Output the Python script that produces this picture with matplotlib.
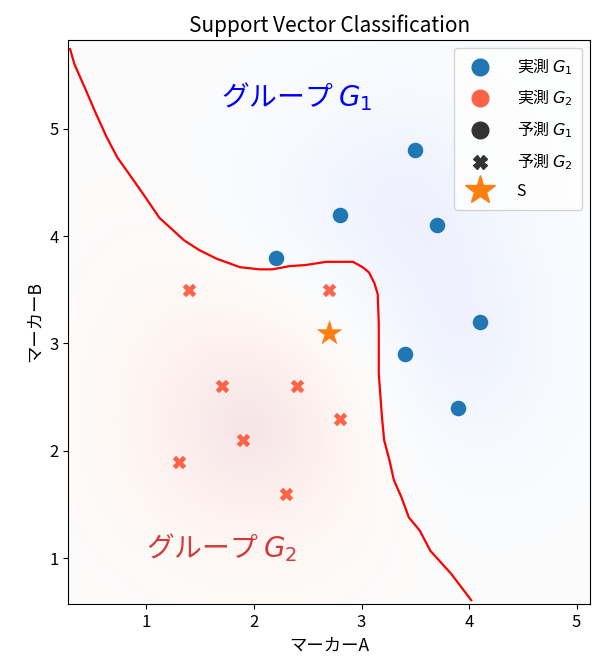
import numpy as np
import matplotlib.pyplot as plt
from matplotlib.lines import Line2D

plt.rcParams['font.family'] = ['Noto Sans CJK JP', 'DejaVu Sans']

# measured points
g1_x = [2.2, 2.8, 3.5, 3.7, 4.1, 3.4, 3.9]
g1_y = [3.8, 4.2, 4.8, 4.1, 3.2, 2.9, 2.4]
g2_x = [1.4, 2.7, 1.7, 2.4, 1.9, 2.8, 1.3, 2.3]
g2_y = [3.5, 3.5, 2.6, 2.6, 2.1, 2.3, 1.9, 1.6]
s_x = [2.7]
s_y = [3.1]

# decision boundary
boundary_x = [0.29, 0.33, 0.44, 0.53, 0.63, 0.73, 0.83, 0.97, 1.12, 1.35, 1.49,
              1.65, 1.87, 2.05, 2.17, 2.33, 2.48, 2.67, 2.92, 3.01, 3.07, 3.12,
              3.15, 3.16, 3.16, 3.19, 3.21, 3.26, 3.30, 3.37, 3.44, 3.54, 3.64,
              3.83, 4.02]
boundary_y = [5.74, 5.60, 5.35, 5.14, 4.92, 4.73, 4.59, 4.39, 4.17, 3.96, 3.87,
              3.79, 3.71, 3.69, 3.69, 3.72, 3.73, 3.76, 3.76, 3.71, 3.66, 3.56,
              3.46, 3.18, 2.72, 2.31, 2.10, 1.91, 1.73, 1.57, 1.38, 1.26, 1.07,
              0.86, 0.61]

xlim = (0.275, 5.125)
ylim = (0.575, 5.825)

# soft background from rbf kernels around the points
gamma = 0.9
gx = np.linspace(xlim[0], xlim[1], 300)
gy = np.linspace(ylim[0], ylim[1], 300)
GX, GY = np.meshgrid(gx, gy)
field = np.zeros_like(GX)
for px, py in zip(g1_x, g1_y):
    field += np.exp(-gamma * ((GX - px) ** 2 + (GY - py) ** 2))
for px, py in zip(g2_x, g2_y):
    field -= 0.8 * np.exp(-gamma * ((GX - px) ** 2 + (GY - py) ** 2))
m = np.abs(field).max()

fig = plt.figure(figsize=(6.04, 6.72), dpi=100)
ax = fig.add_axes([0.1134, 0.1012, 0.8636, 0.8393])

ax.imshow(field, extent=(*xlim, *ylim), origin='lower', cmap='coolwarm_r',
          vmin=-m, vmax=m, alpha=0.1, aspect='auto', interpolation='bilinear')

ax.plot(boundary_x, boundary_y, color='red', lw=1.6)

ax.scatter(g1_x, g1_y, s=125, marker='o', color='#1f77b4', linewidths=0, zorder=3)
ax.scatter(g2_x, g2_y, s=95, marker='X', color='tomato', linewidths=0, zorder=3)
ax.scatter(s_x, s_y, s=380, marker='*', color='#ff7f0e', linewidths=0, zorder=4)

ax.text(2.4, 5.3, 'グループ $G_1$', color='blue', fontsize=20,
        ha='center', va='center')
ax.text(1.7, 1.1, 'グループ $G_2$', color='#d33b3b', fontsize=20,
        ha='center', va='center')

ax.set_xlim(xlim)
ax.set_ylim(ylim)
ax.set_xticks([1, 2, 3, 4, 5])
ax.set_yticks([1, 2, 3, 4, 5])
ax.tick_params(labelsize=12)
ax.set_xlabel('マーカーA', fontsize=12.5)
ax.set_ylabel('マーカーB', fontsize=12.5)
ax.set_title('Support Vector Classification', fontsize=15)

handles = [
    Line2D([], [], ls='', marker='o', color='#1f77b4', markersize=12),
    Line2D([], [], ls='', marker='o', color='tomato', markersize=12),
    Line2D([], [], ls='', marker='o', color='#333333', markersize=12),
    Line2D([], [], ls='', marker='X', color='#333333', markersize=10),
    Line2D([], [], ls='', marker='*', color='#ff7f0e', markersize=22),
]
labels = ['実測 $G_1$', '実測 $G_2$', '予測 $G_1$', '予測 $G_2$', 'S']
ax.legend(handles, labels, loc='upper right', fontsize=11.5, labelspacing=0.7,
          handletextpad=1.3, borderpad=0.6)

fig.savefig('out.png', dpi=100)
